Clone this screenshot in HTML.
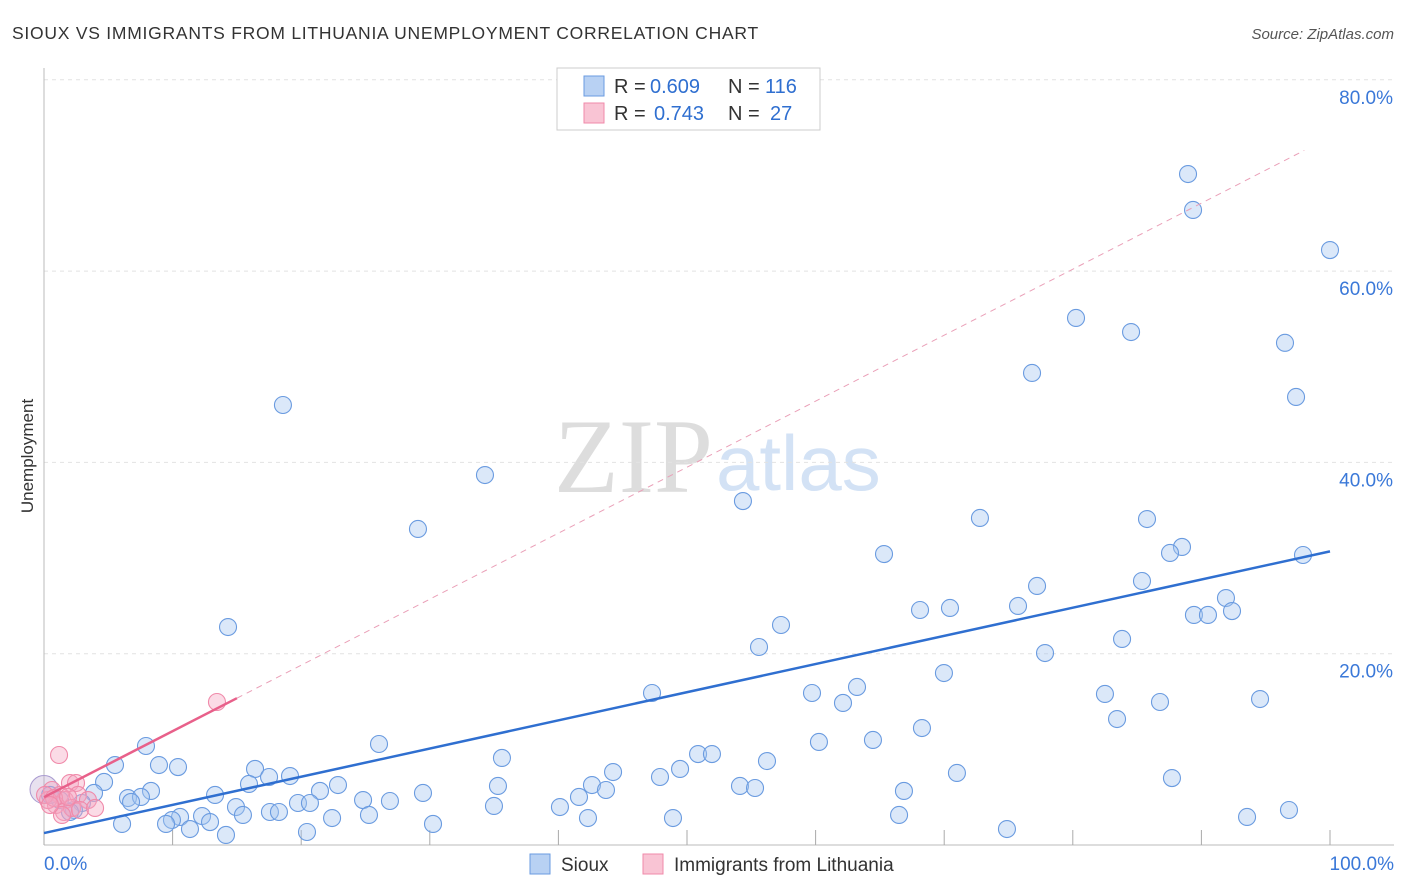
<!DOCTYPE html>
<html><head><meta charset="utf-8"><style>
body{margin:0;background:#fff;font-family:"Liberation Sans",sans-serif;}
#wrap{position:relative;width:1406px;height:892px;overflow:hidden}
</style></head><body><div id="wrap">
<svg id="svg" width="1406" height="892" xmlns="http://www.w3.org/2000/svg">
<text x="12" y="39" font-size="17.5" fill="#333" letter-spacing="0.75">SIOUX VS IMMIGRANTS FROM LITHUANIA UNEMPLOYMENT CORRELATION CHART</text>
<text x="1394" y="39" font-size="15" fill="#555" font-style="italic" text-anchor="end">Source: ZipAtlas.com</text>
<text transform="translate(33,456) rotate(-90)" font-size="17" fill="#333" text-anchor="middle">Unemployment</text>
<text x="713" y="492" font-size="106" fill="#ddd" font-family="Liberation Serif,serif" text-anchor="end">ZIP</text>
<text x="716" y="490" font-size="78" fill="#d3e2f5">atlas</text>
<g id="grid"></g><g id="marks"></g>
<rect x="557" y="68" width="263" height="62" fill="#fff" stroke="#ccc"/>
<rect x="584" y="76" width="20" height="20" fill="#b8d1f3" stroke="#6a9be0"/>
<rect x="584" y="103" width="20" height="20" fill="#f9c4d4" stroke="#f08aaa"/>
<g font-size="20" fill="#333">
<text x="614" y="93">R =</text>
<text x="650" y="93" fill="#2f6fd0">0.609</text>
<text x="728" y="93">N =</text>
<text x="765" y="93" fill="#2f6fd0">116</text>
<text x="614" y="120">R =</text>
<text x="654" y="120" fill="#2f6fd0">0.743</text>
<text x="728" y="120">N =</text>
<text x="770" y="120" fill="#2f6fd0">27</text>
</g>
<rect x="530" y="854" width="20" height="20" fill="#b8d1f3" stroke="#6a9be0"/>
<text x="561" y="871" font-size="19" fill="#333">Sioux</text>
<rect x="643" y="854" width="20" height="20" fill="#f9c4d4" stroke="#f08aaa"/>
<text x="674" y="871" font-size="19" fill="#333">Immigrants from Lithuania</text>
</svg></div>
<script>
const yTicks=[20,40,60,80];
const xTicks=[0,10,20,30,40,50,60,70,80,90,100];
const blueX=[88.96,89.35,100,80.25,84.53,96.5,76.83,97.36,18.58,34.29,54.35,29.08,72.78,85.77,88.49,87.56,65.32,97.9,85.38,77.22,91.91,75.74,68.12,70.45,89.42,90.51,92.38,14.31,57.31,83.83,55.6,77.84,69.98,63.22,47.28,59.72,82.5,62.13,86.78,94.56,83.44,68.27,7.93,64.46,60.26,26.05,50.86,51.94,35.61,5.52,8.94,10.42,56.22,16.41,44.25,49.46,70.99,87.71,47.9,19.13,4.67,17.5,15.94,22.86,35.3,54.12,55.29,42.61,8.32,41.6,43.7,3.89,21.46,13.3,24.81,29.47,6.53,7.54,66.87,6.77,19.75,20.68,26.9,14.93,40.12,34.99,2.95,17.57,18.27,15.47,12.29,10.58,9.95,12.91,25.27,22.4,48.91,42.3,66.49,96.81,93.55,6.07,9.49,11.35,30.25,20.45,14.15,74.88,2.33,1.24,0.47,2.02];
const blueY=[70.15,66.39,62.2,55.1,53.63,52.5,49.35,46.84,46.0,38.68,35.96,33.04,34.19,34.08,31.16,30.53,30.42,30.32,27.6,27.08,25.82,24.99,24.57,24.78,24.05,24.05,24.46,22.79,23.0,21.54,20.7,20.07,17.98,16.52,15.89,15.89,15.79,14.85,14.95,15.26,13.17,12.23,10.35,10.98,10.77,10.56,9.51,9.51,9.1,8.36,8.36,8.15,8.78,7.95,7.63,7.95,7.53,7.0,7.11,7.21,6.59,7.11,6.38,6.27,6.17,6.17,5.96,6.27,5.65,5.02,5.75,5.44,5.65,5.23,4.7,5.44,4.91,5.02,5.65,4.5,4.39,4.39,4.6,3.97,3.97,4.08,4.39,3.45,3.45,3.14,3.03,2.93,2.61,2.4,3.14,2.82,2.82,2.82,3.14,3.66,2.93,2.2,2.2,1.67,2.2,1.36,1.05,1.67,3.66,4.7,5.23,3.45];
const pinkX=[13.45,1.17,2.02,2.49,0.62,1.24,1.63,2.64,3.42,0.93,1.56,2.18,0.31,0.08,2.8,3.97,1.4,0.78,1.87,0.47];
const pinkY=[14.95,9.41,6.48,6.48,5.75,5.23,4.7,5.23,4.7,4.18,3.45,3.87,4.7,5.23,3.66,3.87,3.14,4.91,5.02,4.18];
const blueFit=[1.25,30.7];
const pinkFit=[5.0,0.69];
const X=v=>44+v*12.86, Y=v=>845-v*9.565;
const NS='http://www.w3.org/2000/svg';
const grid=document.getElementById('grid'), marks=document.getElementById('marks');
function mk(tag,attrs,parent){const e=document.createElementNS(NS,tag);for(const k in attrs)e.setAttribute(k,attrs[k]);parent.appendChild(e);return e;}
yTicks.forEach(t=>{
 const l=mk('line',{x1:44,x2:1394,y1:Y(t),y2:Y(t),stroke:'#e2e2e2','stroke-dasharray':'4,4'},grid);
 
 
 const tx=mk('text',{x:1393,y:Y(t)+24,'font-size':19,fill:'#3a78d8','text-anchor':'end'},grid);tx.textContent=t.toFixed(1)+'%';
 
 
});
const ax=mk('line',{x1:44,x2:44,y1:68,y2:845,stroke:'#bbb'},grid);


const bx=mk('line',{x1:44,x2:1394,y1:845,y2:845,stroke:'#bbb'},grid);


xTicks.forEach(t=>{const l=mk('line',{x1:X(t),x2:X(t),y1:830,y2:845,stroke:'#aaa'},grid);
 
 });
[[0,'start',44],[100,'end',1394]].forEach(([v,a,px])=>{const tx=mk('text',{x:px,y:870,'font-size':19,fill:'#3a78d8','text-anchor':a},grid);tx.textContent=v.toFixed(1)+'%';
 
 });
const big=mk('circle',{cx:X(0),cy:Y(5.8),r:14,fill:'rgba(190,170,210,0.35)',stroke:'#a99bd0'},marks);


blueX.forEach((v,i)=>{const c=mk('circle',{cx:X(v),cy:Y(blueY[i]),r:8.5,fill:'rgba(165,198,240,0.4)',stroke:'#6a9be0','stroke-width':1.1},marks);
 
 });
pinkX.forEach((v,i)=>{const c=mk('circle',{cx:X(v),cy:Y(pinkY[i]),r:8.5,fill:'rgba(245,165,192,0.4)',stroke:'#f08aaa','stroke-width':1.1},marks);
 
 });
const bl=mk('line',{x1:X(0),y1:Y(blueFit[0]),x2:X(100),y2:Y(blueFit[1]),stroke:'#2f6fd0','stroke-width':2.5},marks);


const pd=mk('line',{x1:X(15),y1:Y(pinkFit[0]+pinkFit[1]*15),x2:X(98),y2:Y(pinkFit[0]+pinkFit[1]*98),stroke:'#eaa0b8','stroke-width':1,'stroke-dasharray':'6,5'},marks);


const pl=mk('line',{x1:X(0),y1:Y(pinkFit[0]),x2:X(15),y2:Y(pinkFit[0]+pinkFit[1]*15),stroke:'#e8608a','stroke-width':2.5},marks);


</script></body></html>
